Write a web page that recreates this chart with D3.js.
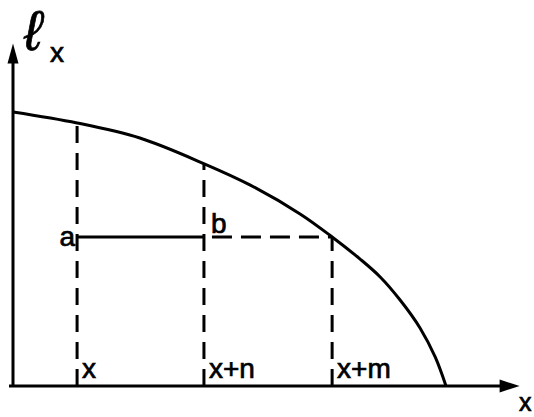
<!DOCTYPE html>
<html>
<head>
<meta charset="utf-8">
<script src="https://cdn.jsdelivr.net/npm/d3@7"></script>
<style>
  html, body { margin: 0; padding: 0; background: #fff; }
  svg { display: block; }
</style>
</head>
<body>
<div id="chart"></div>
<script>
  // survivorship curve l_x (age, proportion surviving)
  const ages = [0, 14.8, 29.3, 44.3, 54.7, 66.3, 73.7, 80.1, 84.8, 89.4, 94.0, 97.5, 100];
  const lx = [1.0, 0.960, 0.905, 0.810, 0.734, 0.628, 0.544, 0.464, 0.398, 0.314, 0.212, 0.106, 0];

  // marked ages on the x axis
  const markAges = [14.8, 44.1, 73.7];
  const markLabels = ["x", "x+n", "x+m"];

  const width = 534;
  const height = 417;

  const x = d3.scaleLinear().domain([0, 100]).range([13, 446]);
  const y = d3.scaleLinear().domain([0, 1]).range([386, 112]);
  const xMax = 117;
  const yMax = 1.25;

  const lineOf = d3.line().x(d => x(d[0])).y(d => y(d[1])).curve(d3.curveCatmullRom.alpha(0.5));
  const curvePts = ages.map((a, i) => [a, lx[i]]);
  const lAt = a => {
    // value of the curve at a marked age, from the data
    const i = d3.bisectLeft(ages, a);
    if (ages[i] === a) return lx[i];
    const t = (a - ages[i - 1]) / (ages[i] - ages[i - 1]);
    return lx[i - 1] + t * (lx[i] - lx[i - 1]);
  };

  const svg = d3.select("#chart")
    .append("svg")
    .attr("width", width)
    .attr("height", height)
    .style("font-family", "'Liberation Sans', Arial, sans-serif");

  const ink = "#000";
  const sw = 3;

  // dashed verticals, dash pattern starting at the axis
  svg.append("g")
    .selectAll("line")
    .data(markAges)
    .join("line")
    .attr("x1", d => x(d)).attr("x2", d => x(d))
    .attr("y1", y(0)).attr("y2", d => y(lAt(d)))
    .attr("stroke", ink)
    .attr("stroke-width", sw)
    .attr("stroke-dasharray", "17,10");

  // level l(x+m): solid from a to b, dashed from b to the curve
  const lm = lAt(markAges[2]);
  svg.append("line")
    .attr("x1", x(markAges[0])).attr("x2", x(markAges[1]))
    .attr("y1", y(lm)).attr("y2", y(lm))
    .attr("stroke", ink).attr("stroke-width", sw);
  svg.append("line")
    .attr("x1", x(markAges[1]) + 8).attr("x2", x(markAges[2]))
    .attr("y1", y(lm)).attr("y2", y(lm))
    .attr("stroke", ink).attr("stroke-width", sw)
    .attr("stroke-dasharray", "20,9");

  // curve
  svg.append("path")
    .attr("d", lineOf(curvePts))
    .attr("fill", "none")
    .attr("stroke", ink)
    .attr("stroke-width", sw);

  // axes
  svg.append("line")
    .attr("x1", x(0)).attr("x2", x(0))
    .attr("y1", y(0) + 1).attr("y2", y(yMax) + 10)
    .attr("stroke", ink).attr("stroke-width", sw);
  svg.append("line")
    .attr("x1", x(0) - 4).attr("x2", x(xMax) - 10)
    .attr("y1", y(0)).attr("y2", y(0))
    .attr("stroke", ink).attr("stroke-width", sw);

  const ax = x(0), ay = y(yMax);
  svg.append("path")
    .attr("d", `M${ax},${ay} L${ax - 5.5},${ay + 20} L${ax + 5.5},${ay + 20} Z`)
    .attr("fill", ink);
  const bx = x(xMax), by = y(0);
  svg.append("path")
    .attr("d", `M${bx},${by} L${bx - 20},${by - 6.5} L${bx - 20},${by + 6.5} Z`)
    .attr("fill", ink);

  const label = sel => sel
    .attr("font-size", 28)
    .attr("fill", ink)
    .attr("stroke", ink)
    .attr("stroke-width", 0.7);

  // tick labels to the right of each dashed line
  svg.append("g")
    .selectAll("text")
    .data(markAges)
    .join("text")
    .attr("x", d => x(d) + 5)
    .attr("y", y(0) - 8)
    .call(label)
    .text((d, i) => markLabels[i]);

  // a and b
  svg.append("text")
    .attr("x", x(markAges[0]) - 2)
    .attr("y", y(lm) + 9)
    .attr("text-anchor", "end")
    .call(label)
    .text("a");
  svg.append("text")
    .attr("x", x(markAges[1]) + 7)
    .attr("y", y(lm) - 4)
    .call(label)
    .text("b");

  // axis titles
  svg.append("text")
    .attr("x", 24).attr("y", 50)
    .call(label)
    .attr("font-size", 56)
    .attr("font-style", "italic")
    .text("ℓ");
  svg.append("text")
    .attr("x", 50).attr("y", 62)
    .call(label)
    .text("x");
  svg.append("text")
    .attr("x", 519).attr("y", 411)
    .call(label)
    .attr("font-size", 25)
    .text("x");
</script>
</body>
</html>
